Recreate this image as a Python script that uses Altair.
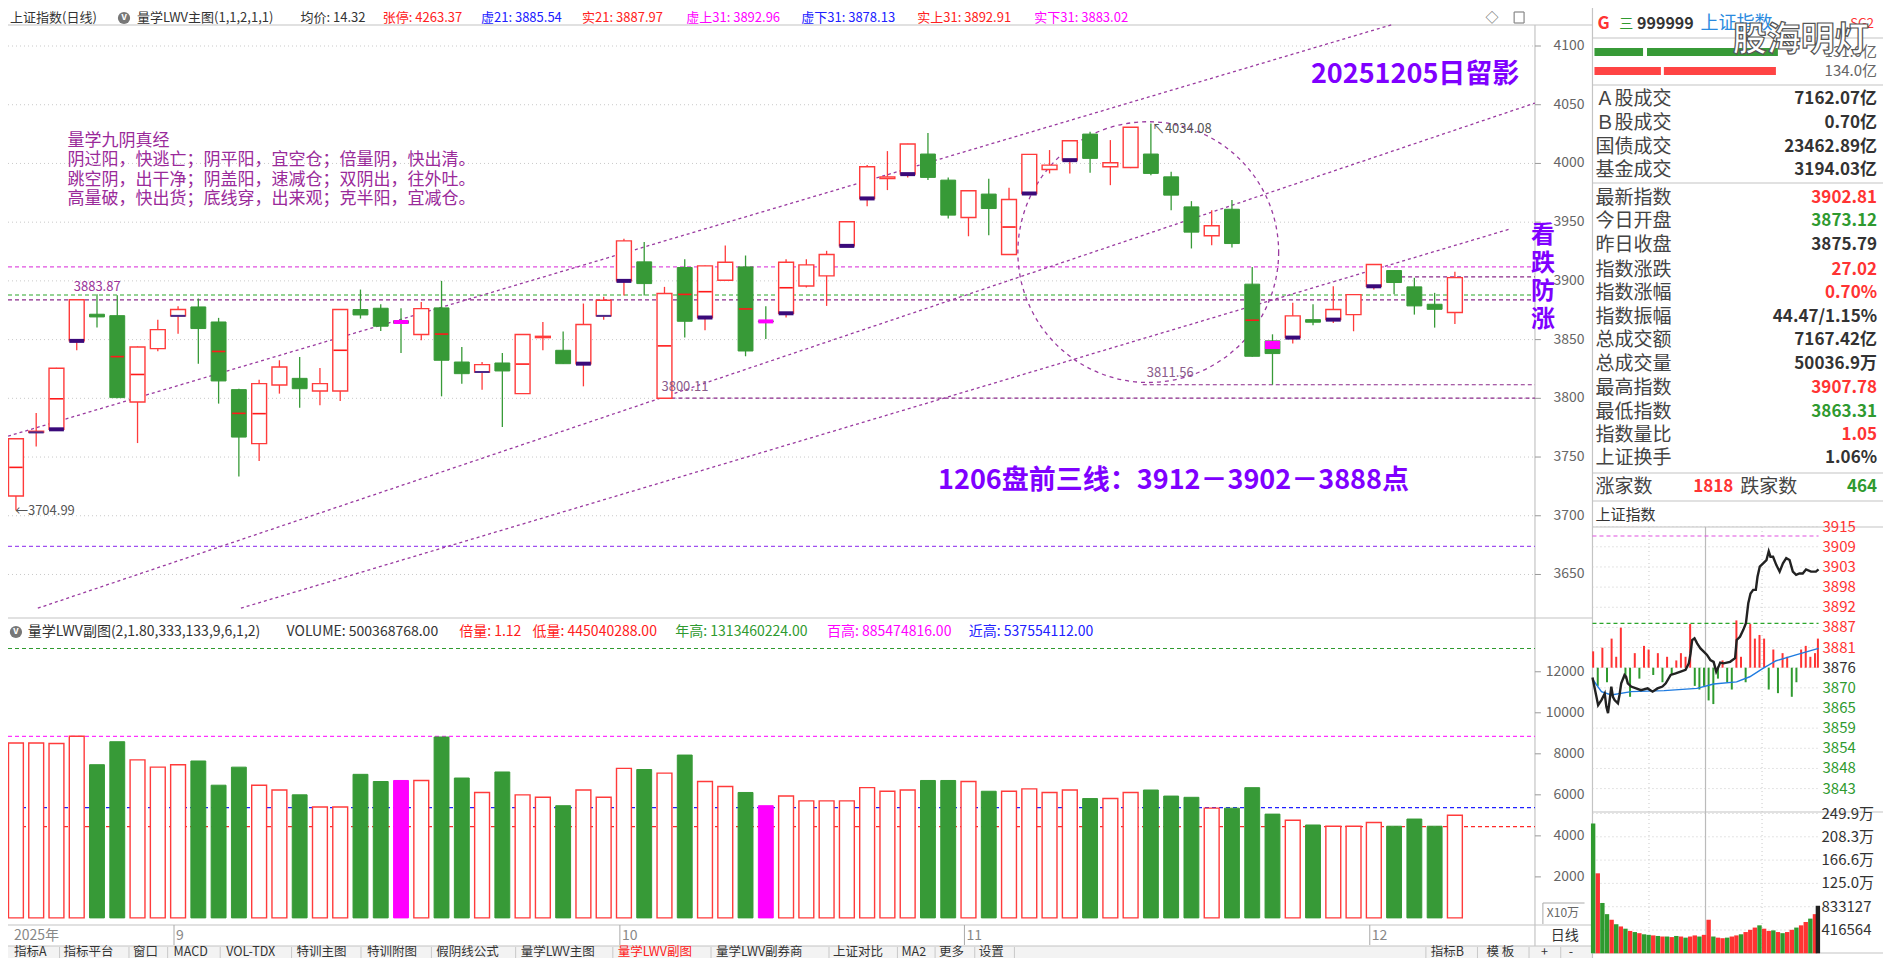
import altair as alt
import pandas as pd

# ======================= values =======================
# daily candles of 上证指数 (2025-08-20 .. 2025-12-05)
opens = [3716.8, 3771.0, 3773.6, 3848.9, 3871.6, 3870.4, 3796.9, 3842.3, 3870.2, 3877.8,
         3865.0, 3807.4, 3761.4, 3811.4, 3817.0, 3806.2, 3806.2, 3875.6, 3876.7, 3866.0,
         3854.3, 3877.0, 3830.9, 3822.4, 3830.1, 3804.0, 3851.7, 3840.9, 3829.5, 3870.2,
         3900.0, 3916.2, 3800.11, 3911.4, 3868.8, 3900.6, 3911.9, 3866.0, 3872.4, 3895.7,
         3904.3, 3929.8, 3970.2, 3987.2, 3990.9, 4008.0, 3985.8, 3954.0, 3973.9, 3922.4,
         3974.4, 3994.9, 4002.8, 4025.0, 3997.2, 3996.6, 4008.0, 3988.6, 3963.0, 3938.4,
         3961.0, 3897.2, 3848.9, 3851.7, 3867.0, 3867.0, 3871.3, 3895.4, 3908.8, 3894.9,
         3880.1, 3873.12]
highs = [3766.0, 3787.5, 3826.0, 3883.87, 3888.6, 3887.8, 3844.2, 3867.0, 3878.4, 3884.9,
         3868.5, 3808.2, 3815.9, 3832.4, 3835.2, 3825.8, 3876.0, 3892.6, 3880.1, 3876.7,
         3882.1, 3900.0, 3843.7, 3831.0, 3838.6, 3854.6, 3865.0, 3857.0, 3880.7, 3886.4,
         3935.8, 3933.2, 3894.9, 3918.5, 3913.0, 3930.1, 3921.6, 3878.4, 3918.5, 3918.5,
         3925.6, 3950.5, 3998.6, 4010.5, 4016.8, 4026.0, 3988.0, 3976.9, 3986.9, 3979.3,
         4008.0, 4011.4, 4019.6, 4027.0, 4019.9, 4031.0, 4034.08, 3992.9, 3967.9, 3960.2,
         3968.8, 3911.9, 3854.5, 3881.3, 3880.1, 3895.4, 3888.5, 3914.2, 3909.2, 3902.6,
         3889.8, 3907.78]
lows = [3704.99, 3759.0, 3772.5, 3841.0, 3860.2, 3800.0, 3761.9, 3840.0, 3855.0, 3829.5,
        3795.5, 3733.5, 3746.6, 3804.0, 3792.0, 3794.0, 3797.7, 3867.9, 3857.4, 3838.6,
        3849.4, 3801.7, 3812.5, 3807.4, 3775.6, 3803.7, 3840.9, 3829.3, 3810.2, 3867.0,
        3887.5, 3887.5, 3800.11, 3851.7, 3858.0, 3900.0, 3835.8, 3850.6, 3868.8, 3894.3,
        3878.7, 3929.6, 3963.6, 3977.3, 3988.0, 3985.8, 3953.1, 3938.0, 3938.9, 3922.2,
        3974.0, 3991.5, 3991.5, 3992.0, 3981.5, 3996.0, 3990.0, 3960.2, 3927.6, 3930.4,
        3928.4, 3835.5, 3811.56, 3846.6, 3862.2, 3864.2, 3857.1, 3892.6, 3888.6, 3871.3,
        3860.2, 3863.31]
closes = [3765.6, 3772.0, 3825.6, 3883.87, 3869.3, 3800.6, 3843.7, 3858.5, 3875.6, 3859.4,
          3814.8, 3767.0, 3812.5, 3826.7, 3808.2, 3812.5, 3875.6, 3871.0, 3861.4, 3864.0,
          3876.4, 3832.4, 3821.0, 3828.7, 3823.3, 3854.3, 3852.8, 3829.5, 3862.8, 3883.5,
          3934.1, 3897.7, 3889.2, 3865.6, 3912.8, 3915.9, 3840.3, 3865.0, 3915.9, 3913.6,
          3922.4, 3950.3, 3997.2, 3988.6, 4016.5, 3988.1, 3956.0, 3976.7, 3961.6, 3969.3,
          4007.7, 3998.6, 4019.3, 4004.3, 4000.6, 4030.8, 3991.5, 3973.0, 3941.5, 3946.9,
          3931.8, 3835.8, 3838.1, 3870.2, 3864.8, 3875.6, 3888.3, 3913.9, 3898.6, 3878.7,
          3875.79, 3902.81]
# volume, in units of 10万 (axis "X10万")
volumes = [8529, 8529, 8500, 8855, 7470, 8590, 7705, 7350, 7470, 7650,
           6470, 7350, 6470, 6235, 6000, 5410, 5410, 7000, 6650, 6700,
           6700, 8820, 6820, 6115, 7115, 6000, 5880, 5470, 6235, 5880,
           7290, 7235, 7060, 7940, 6650, 6410, 6115, 5470, 5940, 5705,
           5705, 5705, 6350, 6175, 6235, 6700, 6700, 6650, 6175, 6175,
           6290, 6115, 6235, 5820, 5820, 6115, 6235, 5940, 5880, 5350,
           5350, 6350, 5060, 4760, 4530, 4470, 4470, 4650, 4470, 4820,
           4470, 5004]

dark_thick = [2, 3, 28, 30, 34, 38, 41, 42, 44, 50, 52, 63, 65, 67]
dark_thin = [1, 8, 23, 29]
magenta_days = [19, 37]
magenta_block_day = [62]
magenta_block_low = [3842.0]

price_ticks = [3650, 3700, 3750, 3800, 3850, 3900, 3950, 4000, 4050, 4100]
vol_ticks = [2000, 4000, 6000, 8000, 10000, 12000]

full_levels = [3912.0, 3887.97, 3883.87, 3674.0]
full_level_colors = ["#e050e0", "#2aa52a", "#8a2a8a", "#a050f0"]
part_levels = [3903.4, 3800.11, 3811.56]
part_start = [68.0, 32.0, 55.6]

trend_i1 = [-0.39, 1.08, 11.1]
trend_v1 = [3767.8, 3621.3, 3621.3]
trend_i2 = [68.0, 74.95, 73.7]
trend_v2 = [4118.7, 4051.4, 3944.1]
circle_i = [55.87]
circle_v = [3924.5]

vol_levels = [13134.60224, 8854.74816, 5375.54112, 4450.40288]
vol_level_colors = ["#2f9a2f", "#ff33ff", "#2020ff", "#ff2a2a"]

month_start = [8, 30, 47, 67]
month_labels = ["9", "10", "11", "12"]

# intraday (2025-12-05), minutes after 9:30 (trading minutes)
intra_min = [0, 4.2, 6.0, 9.5, 13.0, 14.7, 16.5, 20.0, 21.7, 23.5,
             27.0, 28.7, 30.5, 34.0, 35.7, 37.5, 41.0, 46.3, 51.5, 58.5,
             63.8, 69.0, 74.3, 77.8, 83.0, 88.3, 93.6, 98.8, 102.3, 104.1,
             105.8, 108.3, 111.1, 114.6, 118.1, 121.6, 125.1, 128.6, 131.4, 133.9,
             135.6, 139.1, 146.1, 151.4, 153.1, 156.6, 160.1, 162.9, 165.4, 167.8,
             170.6, 173.4, 175.2, 177.6, 181.2, 184.7, 187.1, 188.9, 191.7, 195.2,
             198.7, 202.2, 205.7, 209.2, 212.7, 216.2, 219.7, 223.2, 226.7, 232.0,
             237.2, 240]
intra_px = [3873.12, 3867.8, 3865.5, 3866.9, 3868.7, 3865.1, 3863.31, 3870.6, 3867.8, 3866.9,
            3866.0, 3868.3, 3871.5, 3873.8, 3873.3, 3871.5, 3870.6, 3870.1, 3869.6, 3870.1,
            3869.2, 3870.1, 3870.6, 3871.5, 3873.8, 3874.2, 3874.7, 3875.2, 3877.0, 3879.7,
            3883.4, 3883.9, 3882.5, 3881.1, 3880.2, 3879.3, 3877.9, 3877.4, 3874.7, 3876.1,
            3877.2, 3877.0, 3877.4, 3878.4, 3883.4, 3884.3, 3886.2, 3888.0, 3893.5, 3896.2,
            3897.2, 3897.2, 3900.8, 3903.6, 3904.5, 3905.4, 3907.78, 3906.3, 3906.3, 3904.0,
            3902.2, 3904.5, 3905.9, 3905.4, 3902.2, 3901.3, 3901.7, 3901.7, 3902.8, 3902.2,
            3902.2, 3902.81]
avg_min = [0.7, 9.5, 20, 41, 76, 111, 128.6, 153, 167, 181, 195, 216, 240]
avg_px = [3872.4, 3869.2, 3868.3, 3869.2, 3869.5, 3870.1, 3871.3, 3871.9, 3873.3, 3875.6,
          3877.7, 3879.3, 3881.1]
bar_min = [0.7, 5.6, 10.5, 15.4, 20.3, 25.2, 30.1, 35.0, 39.9, 44.9,
           49.8, 54.7, 59.6, 64.5, 69.4, 74.3, 79.2, 84.1, 89.0, 93.9,
           98.8, 103.7, 108.6, 113.5, 118.4, 123.3, 128.3, 133.2, 138.1, 143.0,
           147.9, 152.8, 157.7, 162.6, 167.5, 172.4, 177.3, 182.2, 187.1, 192.0,
           196.9, 201.8, 206.7, 211.6, 216.5, 221.5, 226.4, 231.3, 236.2, 239.3]
breadth = [4.5, -5, 5.5, -4, 8, 3, 11, -3, -8, 4,
           -3, 6, 5, -2, 4, -4, 3, -2, 2, 4,
           3, 12, -5, -6, -5, -9, -10, -3, 2, -4,
           -6, 13, 3, -4, 12, 8, 9, 8, -6, 5,
           -7, 4, 3, -8, -4, 5, 6, 3, 4, 8]
ivol = [232, 143, 90, 70, 60, 52, 48, 44, 40, 38,
        36, 34, 33, 32, 31, 30, 30, 29, 31, 30,
        28, 30, 32, 30, 33, 60, 30, 28, 27, 28,
        30, 32, 34, 38, 42, 46, 50, 44, 40, 41,
        38, 36, 38, 42, 46, 50, 56, 62, 70, 85]
ivol_dir = ["g", "r", "g", "g", "r", "g", "r", "g", "r", "g",
            "r", "g", "g", "r", "g", "r", "g", "r", "g", "r",
            "g", "r", "r", "g", "r", "r", "g", "r", "r", "g",
            "r", "r", "g", "r", "r", "r", "g", "r", "r", "g",
            "r", "g", "r", "r", "g", "r", "r", "g", "r", "k"]
ip_levels = [3914.57, 3909.03, 3903.49, 3897.95, 3892.41, 3886.87, 3881.33, 3875.79,
             3870.25, 3864.71, 3859.17, 3853.63, 3848.09, 3842.55]
ip_labels = ["3915", "3909", "3903", "3898", "3892", "3887", "3881", "3876",
             "3870", "3865", "3859", "3854", "3848", "3843"]
iv_levels = [249.9, 208.3, 166.6, 125.0, 83.3127, 41.6564]
iv_labels = ["249.9万", "208.3万", "166.6万", "125.0万", "833127", "416564"]

info_labels = ["Ａ股成交", "Ｂ股成交", "国债成交", "基金成交", "最新指数", "今日开盘", "昨日收盘",
               "指数涨跌", "指数涨幅", "指数振幅", "总成交额", "总成交量", "最高指数", "最低指数",
               "指数量比", "上证换手"]
info_values = ["7162.07亿", "0.70亿", "23462.89亿", "3194.03亿", "3902.81", "3873.12", "3875.79",
               "27.02", "0.70%", "44.47/1.15%", "7167.42亿", "50036.9万", "3907.78", "3863.31",
               "1.05", "1.06%"]
info_kind = ["d", "d", "d", "d", "r", "g", "d", "r", "r", "d", "d", "d", "r", "g", "r", "d"]

# ============================== styling / layout ==============================
FONT = "Noto Sans CJK SC"
W, H = 1875, 950            # drawing area (page minus margins)
RW = 1891.0                 # horizontal layout units (the reference window)
YT, YB = 8.0, 958.0         # vertical layout units shown at top / bottom of the drawing
RED, GREEN, DARK, MAG = "#ff3b3b", "#379a37", "#3a0a7a", "#ff00ff"
PURP, VIO, GRAY, TXT, LINE = "#993399", "#7f00ff", "#666666", "#333333", "#c4c4c4"
KC = {"d": TXT, "r": "#ff3333", "g": "#2f9a2f", "k": "#222222"}

X0, DX = 8.0, 20.44                  # first candle centre, candle spacing
PY0, PV0, PK = 46.0, 4100.0, 1.1744   # price axis
VY0, VK = 917.9, 0.02051              # volume axis
IX0, IK = 1598.0, 0.95                # intraday time axis
IPY0, IPV0, IPK = 667.7, 3875.79, 3.637
IVY0, IVK = 953.3, 0.5593
HALF = 7.5 / DX
I_LEFT, I_RIGHT = -X0 / DX, (1540 - X0) / DX
M_LEFT, M_RIGHT = 0.0, (1826 - IX0) / IK

IDX = alt.Scale(domain=[-X0 / DX, (RW - X0) / DX], nice=False, zero=False)
PRICE = alt.Scale(domain=[PV0 - (YB - PY0) / PK, PV0 + (PY0 - YT) / PK], nice=False, zero=False)
VOL = alt.Scale(domain=[-(YB - VY0) / VK, (VY0 - YT) / VK], nice=False, zero=False)
MIN = alt.Scale(domain=[-IX0 / IK, (RW - IX0) / IK], nice=False, zero=False)
IPRICE = alt.Scale(domain=[IPV0 - (YB - IPY0) / IPK, IPV0 + (IPY0 - YT) / IPK], nice=False, zero=False)
IVOL = alt.Scale(domain=[-(YB - IVY0) / IVK, (IVY0 - YT) / IVK], nice=False, zero=False)
PXX = alt.Scale(domain=[0, RW], nice=False, zero=False)
PXY = alt.Scale(domain=[YT, YB], nice=False, zero=False, reverse=True)


def X(f, sc):
    return alt.X(f + ":Q", scale=sc, axis=None)


def Y(f, sc):
    return alt.Y(f + ":Q", scale=sc, axis=None)


def ui_text(rows, size, weight="normal", align="left", baseline="middle", **kw):
    d = pd.DataFrame(rows, columns=["x", "y", "t", "c"])
    return alt.Chart(d).mark_text(font=FONT, fontSize=size, fontWeight=weight, align=align,
                                  baseline=baseline, **kw).encode(
        x=X("x", PXX), y=Y("y", PXY), text=alt.Text("t:N"), color=alt.Color("c:N", scale=None))


def ui_lines(rows, color, width=1.0, dash=None):
    d = pd.DataFrame(rows, columns=["x1", "y1", "x2", "y2"])
    m = dict(color=color, strokeWidth=width)
    if dash:
        m["strokeDash"] = dash
    return alt.Chart(d).mark_rule(**m).encode(x=X("x1", PXX), x2=alt.X2("x2"),
                                              y=Y("y1", PXY), y2=alt.Y2("y2"))


def ui_rects(rows, fill):
    d = pd.DataFrame(rows, columns=["x1", "y1", "x2", "y2"])
    return alt.Chart(d).mark_rect(fill=fill).encode(x=X("x1", PXX), x2=alt.X2("x2"),
                                                    y=Y("y1", PXY), y2=alt.Y2("y2"))


layers = []

# ---------------- panel frames ----------------
layers.append(ui_rects([(0, 946, 1598, 958)], "#f3f3f3"))
layers.append(ui_lines([(0, 25, 1598, 25), (0, 618, 1598, 618), (0, 925, 1598, 925),
                        (0, 946, 1598, 946), (1540, 25, 1540, 946), (1598, 0, 1598, 966),
                        (1598, 38, 1891, 38), (1598, 85, 1891, 85), (1598, 183, 1891, 183),
                        (1598, 473, 1891, 473), (1598, 501, 1891, 501), (1598, 527, 1891, 527),
                        (1598, 812, 1891, 812), (1598, 953, 1891, 953)], LINE, 1.2))

# ---------------- main price panel ----------------
cd = pd.DataFrame({"i": list(range(len(opens))), "o": opens, "h": highs, "l": lows,
                   "c": closes, "v": volumes})
cd["top"] = cd[["o", "c"]].max(axis=1)
cd["bot"] = cd[["o", "c"]].min(axis=1)
cd["x1"] = cd["i"] - HALF
cd["x2"] = cd["i"] + HALF
cd["mx1"] = cd["i"] - HALF * 0.9
cd["mx2"] = cd["i"] + HALF * 0.9
cd["mid"] = (cd["o"] + cd["c"]) / 2
cd["zero"] = 0.0
up = cd[cd.c >= cd.o]
dn = cd[cd.c < cd.o]

gdf = pd.DataFrame({"v": price_ticks, "a": I_LEFT, "b": I_RIGHT})
layers.append(alt.Chart(gdf).mark_rule(color="#c9c9c9", strokeDash=[1, 3]).encode(
    x=X("a", IDX), x2=alt.X2("b"), y=Y("v", PRICE)))

for lv, colr in zip(full_levels, full_level_colors):
    d = pd.DataFrame({"v": [lv], "a": [I_LEFT], "b": [I_RIGHT]})
    layers.append(alt.Chart(d).mark_rule(color=colr, strokeDash=[4, 3], strokeWidth=1.2).encode(
        x=X("a", IDX), x2=alt.X2("b"), y=Y("v", PRICE)))
pdl = pd.DataFrame({"v": part_levels, "a": part_start, "b": I_RIGHT})
layers.append(alt.Chart(pdl).mark_rule(color="#8a2a8a", strokeDash=[4, 3], strokeWidth=1.2).encode(
    x=X("a", IDX), x2=alt.X2("b"), y=Y("v", PRICE)))

tdf = pd.DataFrame({"a": trend_i1, "va": trend_v1, "b": trend_i2, "vb": trend_v2})
layers.append(alt.Chart(tdf).mark_rule(color="#9a3aa0", strokeDash=[3, 3], strokeWidth=1.3).encode(
    x=X("a", IDX), x2=alt.X2("b"), y=Y("va", PRICE), y2=alt.Y2("vb")))
layers.append(alt.Chart(pd.DataFrame({"i": circle_i, "v": circle_v})).mark_point(
    shape="circle", size=68000, filled=False, color="#9a3aa0", opacity=1,
    strokeDash=[4, 4], strokeWidth=1.3).encode(x=X("i", IDX), y=Y("v", PRICE)))

# wicks + bodies
layers.append(alt.Chart(up).mark_rule(color=RED, strokeWidth=1.3).encode(
    x=X("i", IDX), y=Y("l", PRICE), y2=alt.Y2("h")))
layers.append(alt.Chart(dn).mark_rule(color=GREEN, strokeWidth=1.3).encode(
    x=X("i", IDX), y=Y("l", PRICE), y2=alt.Y2("h")))
layers.append(alt.Chart(up).mark_rect(fill="white", stroke=RED, strokeWidth=1.4).encode(
    x=X("x1", IDX), x2=alt.X2("x2"), y=Y("bot", PRICE), y2=alt.Y2("top")))
layers.append(alt.Chart(dn).mark_rect(fill=GREEN, stroke=GREEN, strokeWidth=1).encode(
    x=X("x1", IDX), x2=alt.X2("x2"), y=Y("bot", PRICE), y2=alt.Y2("top")))
mids = cd[(cd.c - cd.o).abs() > 38]
layers.append(alt.Chart(mids).mark_rule(color="#ff1a1a", strokeWidth=1.6).encode(
    x=X("mx1", IDX), x2=alt.X2("mx2"), y=Y("mid", PRICE)))
layers.append(alt.Chart(cd[cd.i.isin(dark_thick)]).mark_rule(color=DARK, strokeWidth=4).encode(
    x=X("x1", IDX), x2=alt.X2("x2"), y=Y("bot", PRICE)))
layers.append(alt.Chart(cd[cd.i.isin(dark_thin)]).mark_rule(color="#4a2a8a", strokeWidth=2).encode(
    x=X("x1", IDX), x2=alt.X2("x2"), y=Y("bot", PRICE)))
layers.append(alt.Chart(cd[cd.i.isin(magenta_days)]).mark_rule(color=MAG, strokeWidth=4).encode(
    x=X("x1", IDX), x2=alt.X2("x2"), y=Y("mid", PRICE)))
mb = cd[cd.i.isin(magenta_block_day)].copy()
mb["mlow"] = magenta_block_low
layers.append(alt.Chart(mb).mark_rect(fill=MAG).encode(
    x=X("x1", IDX), x2=alt.X2("x2"), y=Y("mlow", PRICE), y2=alt.Y2("top")))


def ann(i, v, text, color, size=13, dx=0, dy=0, align="left"):
    d = pd.DataFrame({"i": [i], "v": [v], "t": [text]})
    return alt.Chart(d).mark_text(font=FONT, fontSize=size, color=color, align=align,
                                  baseline="middle", dx=dx, dy=dy).encode(
        x=X("i", IDX), y=Y("v", PRICE), text="t:N")


layers.append(ann(0, 3704.99, "←3704.99", "#555555", 13, dx=-1, dy=1))
layers.append(ann(3, 3883.87, "3883.87", PURP, 13, dx=-3, dy=-13))
layers.append(ann(32, 3800.11, "3800.11", "#8a5a8a", 13, dx=-3, dy=-11))
layers.append(ann(55.9, 3811.56, "3811.56", "#8a5a8a", 13, dx=-2, dy=-12))
layers.append(ann(56, 4034.08, "↖4034.08", "#555555", 13, dx=1, dy=6))

# price axis labels / ticks
axd = pd.DataFrame({"v": price_ticks, "t": [str(p) for p in price_ticks], "x": 1590.0,
                    "a": 1540.0, "b": 1546.0})
layers.append(alt.Chart(axd).mark_text(font=FONT, fontSize=14, align="right", baseline="middle",
                                       color=GRAY).encode(x=X("x", PXX), y=Y("v", PRICE), text="t:N"))
layers.append(alt.Chart(axd).mark_rule(color="#999999").encode(
    x=X("a", PXX), x2=alt.X2("b"), y=Y("v", PRICE)))

# header line of the main panel
HY = 18
hdr = [(2, HY, "上证指数(日线)", TXT), (130, HY, "量学LWV主图(1,1,2,1,1)", TXT),
       (295, HY, "均价: 14.32", TXT), (378, HY, "张停: 4263.37", "#ff2020"),
       (477, HY, "虚21: 3885.54", "#2020ff"), (579, HY, "实21: 3887.97", "#ff2020"),
       (684, HY, "虚上31: 3892.96", "#ff00ff"), (800, HY, "虚下31: 3878.13", "#2020ff"),
       (917, HY, "实上31: 3892.91", "#ff2020"), (1035, HY, "实下31: 3883.02", "#ff00ff"),
       (1490, HY, "◇", GRAY)]
layers.append(ui_text(hdr, 13))
icons = pd.DataFrame({"x": [117.0, 8.0], "y": [HY, 632.0]})
layers.append(alt.Chart(icons).mark_point(shape="circle", filled=True, color="#777777", opacity=1,
                                          size=150).encode(x=X("x", PXX), y=Y("y", PXY)))
layers.append(ui_text([(117, HY - 1, "v", "white"), (8, 631, "v", "white")], 10, "bold", "center"))
layers.append(ui_lines([(1519, 12, 1519, 23), (1529, 12, 1529, 23), (1519, 12, 1529, 12),
                        (1519, 23, 1529, 23)], "#888888", 1.2))

# big annotations
layers.append(ui_text([(1314, 75, "20251205日留影", VIO)], 27, "bold"))
layers.append(ui_text([(938, 481, "1206盘前三线：3912－3902－3888点", VIO)], 27, "bold"))
layers.append(ui_text([(1548, 224, "看\n跌\n防\n涨", VIO)], 24, "bold", "center", "top",
                      lineBreak="\n", lineHeight=28))
jy = [(60, 141, "量学九阴真经", "#9a2a9a"),
      (60, 160, "阴过阳，快逃亡；阴平阳，宜空仓；倍量阴，快出清。", "#9a2a9a"),
      (60, 180, "跳空阴，出干净；阴盖阳，速减仓；双阴出，往外吐。", "#9a2a9a"),
      (60, 199, "高量破，快出货；底线穿，出来观；克半阳，宜减仓。", "#9a2a9a")]
layers.append(ui_text(jy, 17))

# ---------------- volume panel ----------------
for lv, colr in zip(vol_levels, vol_level_colors):
    d = pd.DataFrame({"v": [lv], "a": [I_LEFT], "b": [I_RIGHT]})
    layers.append(alt.Chart(d).mark_rule(color=colr, strokeDash=[4, 3], strokeWidth=1.2).encode(
        x=X("a", IDX), x2=alt.X2("b"), y=Y("v", VOL)))
vup = up[~up.i.isin(magenta_days)]
vdn = dn[~dn.i.isin(magenta_days)]
layers.append(alt.Chart(vup).mark_rect(fill="white", stroke=RED, strokeWidth=1.4).encode(
    x=X("x1", IDX), x2=alt.X2("x2"), y=Y("zero", VOL), y2=alt.Y2("v")))
layers.append(alt.Chart(vdn).mark_rect(fill=GREEN, stroke=GREEN, strokeWidth=1).encode(
    x=X("x1", IDX), x2=alt.X2("x2"), y=Y("zero", VOL), y2=alt.Y2("v")))
layers.append(alt.Chart(cd[cd.i.isin(magenta_days)]).mark_rect(fill=MAG, stroke=MAG).encode(
    x=X("x1", IDX), x2=alt.X2("x2"), y=Y("zero", VOL), y2=alt.Y2("v")))

vad = pd.DataFrame({"v": vol_ticks, "t": [str(p) for p in vol_ticks], "x": 1590.0,
                    "a": 1540.0, "b": 1546.0})
layers.append(alt.Chart(vad).mark_text(font=FONT, fontSize=14, align="right", baseline="middle",
                                       color=GRAY).encode(x=X("x", PXX), y=Y("v", VOL), text="t:N"))
layers.append(alt.Chart(vad).mark_rule(color="#999999").encode(
    x=X("a", PXX), x2=alt.X2("b"), y=Y("v", VOL)))
layers.append(ui_text([(1552, 913, "X10万", GRAY)], 12))
layers.append(ui_lines([(1548, 903, 1590, 903), (1548, 903, 1548, 924)], "#aaaaaa", 1))

vh = [(20, 632, "量学LWV副图(2,1.80,333,133,9,6,1,2)", TXT), (281, 632, "VOLUME: 500368768.00", TXT),
      (455, 632, "倍量: 1.12", "#ff2020"), (529, 632, "低量: 445040288.00", "#ff2020"),
      (673, 632, "年高: 1313460224.00", "#2f9a2f"), (826, 632, "百高: 885474816.00", "#ff00ff"),
      (969, 632, "近高: 537554112.00", "#2020ff")]
layers.append(ui_text(vh, 14))

# ---------------- date row + toolbar ----------------
md = pd.DataFrame({"i": month_start, "t": month_labels, "y": 935.5, "ya": 925.0, "yb": 945.0})
md["ti"] = md["i"] - 0.2
layers.append(alt.Chart(md).mark_rule(color="#aaaaaa").encode(
    x=X("ti", IDX), y=Y("ya", PXY), y2=alt.Y2("yb")))
layers.append(alt.Chart(md).mark_text(font=FONT, fontSize=14, align="left", baseline="middle",
                                      color="#888888", dx=2).encode(
    x=X("ti", IDX), y=Y("y", PXY), text="t:N"))
layers.append(ui_text([(6, 935.5, "2025年", "#888888"), (1556, 935.5, "日线", TXT)], 14))

btn_text = ["指标A", "指标平台", "窗口", "MACD", "VOL-TDX", "特训主图", "特训附图", "假阴线公式",
            "量学LWV主图", "量学LWV副图", "量学LWV副券商", "上证对比", "MA2", "更多", "设置",
            "指标B", "模 板", "+", "-"]
btn_x = [6, 56, 126, 167, 220, 291, 362, 432, 517, 615, 714, 832, 901, 939, 979,
         1435, 1491, 1546, 1574]
btn_rows = [(x, 951.5, t, "#ff2020" if t == "量学LWV副图" else TXT) for x, t in zip(btn_x, btn_text)]
layers.append(ui_text(btn_rows, 12.5))
seps = [52, 122, 161, 214, 286, 356, 427, 512, 610, 709, 828, 897, 935, 975, 1015, 1430,
        1482, 1534, 1566]
layers.append(ui_lines([(s, 947, s, 958) for s in seps], "#c8c8c8", 1))

# ---------------- right info panel ----------------
TY = 23.5
layers.append(ui_text([(1603, TY, "G", "#ff3333")], 17, "bold"))
layers.append(ui_text([(1625, TY, "三", "#2f9a2f")], 14))
layers.append(ui_text([(1643, TY, "999999", TXT)], 16, "bold"))
layers.append(ui_text([(1707, TY, "上证指数", "#2a8ae0")], 18))
layers.append(ui_text([(1882, TY, "SG2", "#ff3333")], 13, "normal", "right"))
layers.append(ui_rects([(1600, 48, 1649, 56), (1653, 48, 1785, 56)], GREEN))
layers.append(ui_rects([(1600, 67, 1667, 75), (1670, 67, 1783, 75)], "#ff4444"))
layers.append(ui_text([(1885, 52, "131.0亿", "#666666"), (1885, 71, "134.0亿", "#666666")], 15,
                      "normal", "right"))
layers.append(ui_text([(1808, 41, "股海明灯", "white")], 34, "bold", "center",
                      stroke="#555555", strokeWidth=1.2))

info_y = [99, 123, 147, 170, 198, 221, 245, 270, 293, 317, 340, 364, 388, 412, 435, 458]
layers.append(ui_text([(1601, y, t, "#444444") for y, t in zip(info_y, info_labels)], 19))
layers.append(ui_text([(1885, y, t, KC[k]) for y, t, k in zip(info_y, info_values, info_kind)],
                      17, "bold", "right"))
layers.append(ui_text([(1601, 487, "涨家数", "#444444"), (1747, 487, "跌家数", "#444444")], 19))
layers.append(ui_text([(1740, 487, "1818", "#ff3333"), (1885, 487, "464", "#2f9a2f")], 17,
                      "bold", "right"))
layers.append(ui_text([(1601, 515, "上证指数", TXT)], 15))

# ---------------- intraday chart ----------------
ipg = pd.DataFrame({"v": ip_levels, "a": M_LEFT, "b": M_RIGHT, "t": ip_labels, "x": 1830.0})
layers.append(alt.Chart(ipg).mark_rule(color="#c9c9c9", strokeDash=[1, 3]).encode(
    x=X("a", MIN), x2=alt.X2("b"), y=Y("v", IPRICE)))
ipg["c"] = [KC["r"] if v > IPV0 + 0.1 else (KC["g"] if v < IPV0 - 0.1 else TXT) for v in ip_levels]
layers.append(alt.Chart(ipg).mark_text(font=FONT, fontSize=15, align="left", baseline="middle").encode(
    x=X("x", PXX), y=Y("v", IPRICE), text="t:N", color=alt.Color("c:N", scale=None)))
ivg = pd.DataFrame({"v": iv_levels, "a": M_LEFT, "b": M_RIGHT, "t": iv_labels, "x": 1829.0})
layers.append(alt.Chart(ivg).mark_rule(color="#c9c9c9", strokeDash=[1, 3]).encode(
    x=X("a", MIN), x2=alt.X2("b"), y=Y("v", IVOL)))
layers.append(alt.Chart(ivg).mark_text(font=FONT, fontSize=15, align="left", baseline="middle",
                                       color=TXT).encode(x=X("x", PXX), y=Y("v", IVOL), text="t:N"))
vt = pd.DataFrame({"m": [60, 180], "ya": 527.0, "yb": 953.0})
layers.append(alt.Chart(vt).mark_rule(color="#c9c9c9", strokeDash=[1, 3]).encode(
    x=X("m", MIN), y=Y("ya", PXY), y2=alt.Y2("yb")))
layers.append(alt.Chart(pd.DataFrame({"m": [120], "ya": [527.0], "yb": [953.0]})).mark_rule(
    color="#bbbbbb", strokeWidth=1.2).encode(x=X("m", MIN), y=Y("ya", PXY), y2=alt.Y2("yb")))
for lv, colr in [(3912.0, "#e050e0"), (3887.97, "#2aa52a")]:
    d = pd.DataFrame({"v": [lv], "a": [M_LEFT], "b": [M_RIGHT]})
    layers.append(alt.Chart(d).mark_rule(color=colr, strokeDash=[4, 3], strokeWidth=1.2).encode(
        x=X("a", MIN), x2=alt.X2("b"), y=Y("v", IPRICE)))

bd = pd.DataFrame({"m": bar_min, "b": breadth})
bd["base"] = IPV0
bd["tip"] = IPV0 + bd["b"]
layers.append(alt.Chart(bd[bd.b > 0]).mark_rule(color="#ff3333", strokeWidth=2).encode(
    x=X("m", MIN), y=Y("base", IPRICE), y2=alt.Y2("tip")))
layers.append(alt.Chart(bd[bd.b < 0]).mark_rule(color="#2f9a2f", strokeWidth=2).encode(
    x=X("m", MIN), y=Y("base", IPRICE), y2=alt.Y2("tip")))
layers.append(alt.Chart(pd.DataFrame({"m": avg_min, "p": avg_px})).mark_line(
    color="#1e7be0", strokeWidth=1.4).encode(x=X("m", MIN), y=Y("p", IPRICE)))
layers.append(alt.Chart(pd.DataFrame({"m": intra_min, "p": intra_px})).mark_line(
    color="#222222", strokeWidth=2.4).encode(x=X("m", MIN), y=Y("p", IPRICE)))

ivd = pd.DataFrame({"m": bar_min, "v": ivol, "k": ivol_dir})
ivd["zero"] = 0.0
for k, colr in [("r", "#ff3333"), ("g", "#2f9a2f"), ("k", "#222222")]:
    layers.append(alt.Chart(ivd[ivd.k == k]).mark_rule(color=colr, strokeWidth=4.4).encode(
        x=X("m", MIN), y=Y("zero", IVOL), y2=alt.Y2("v")))

chart = alt.layer(*layers).resolve_scale(x="independent", y="independent").properties(
    width=W, height=H, autosize=alt.AutoSizeParams(type="none"), padding=0,
    background="white").configure_view(stroke=None)

chart.save("out.html", embed_options={"renderer": "svg", "actions": False})
